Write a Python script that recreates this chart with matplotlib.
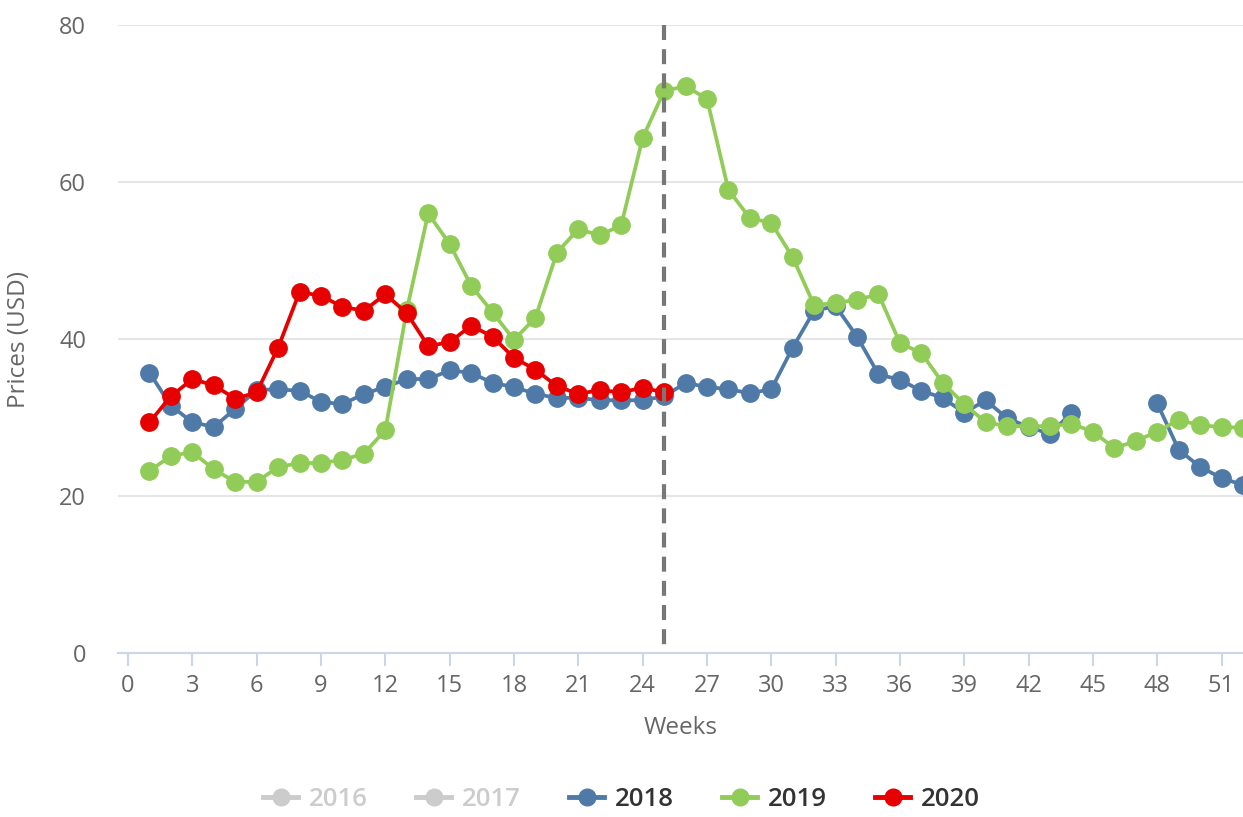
import matplotlib
matplotlib.use('Agg')
import matplotlib.pyplot as plt
from matplotlib.lines import Line2D
import numpy as np

plt.rcParams['font.family'] = ['Open Sans', 'DejaVu Sans']

weeks = list(range(1, 53))

p2018 = [35.7, 31.5, 29.4, 28.8, 31.1, 33.5, 33.6, 33.4, 32.0, 31.7,
         33.0, 33.9, 34.9, 34.9, 36.0, 35.7, 34.4, 33.9, 33.0, 32.5,
         32.5, 32.2, 32.2, 32.2, 32.7, 34.4, 33.9, 33.6, 33.1, 33.6,
         38.9, 43.6, 44.2, 40.3, 35.5, 34.8, 33.4, 32.5, 30.6, 32.2,
         29.9, 28.8, 27.9, 30.6, None, None, None, 31.8, 25.9, 23.7,
         22.3, 21.4]
p2019 = [23.2, 25.1, 25.6, 23.4, 21.8, 21.8, 23.7, 24.2, 24.2, 24.6,
         25.4, 28.4, 43.7, 56.0, 52.1, 46.8, 43.4, 39.9, 42.7, 51.0,
         54.0, 53.2, 54.5, 65.6, 71.6, 72.2, 70.6, 59.0, 55.4, 54.8,
         50.4, 44.3, 44.6, 45.0, 45.7, 39.5, 38.2, 34.4, 31.7, 29.4,
         28.9, 28.9, 28.9, 29.2, 28.2, 26.1, 27.0, 28.2, 29.7, 29.0,
         28.8, 28.7]
p2020 = [29.4, 32.7, 34.9, 34.1, 32.4, 33.2, 38.9, 46.0, 45.5, 44.1,
         43.6, 45.7, 43.3, 39.1, 39.6, 41.7, 40.3, 37.6, 36.1, 34.0,
         33.0, 33.5, 33.2, 33.8, 33.2]

current_week = 25

c2018 = '#4f7aa8'
c2019 = '#91cc58'
c2020 = '#e60000'
hidden = '#cccccc'

fig = plt.figure(figsize=(12.43, 8.17), dpi=100)
ax = fig.add_axes([0.0949, 0.2007, 0.9051, 0.7687])

def to_arr(vals):
    return np.array([np.nan if v is None else v for v in vals], dtype=float)

ms = 12.5
lw = 2.7
ax.plot(weeks, to_arr(p2018), color=c2018, marker='o', ms=ms, lw=lw, zorder=3, clip_on=False)
ax.plot(weeks, to_arr(p2019), color=c2019, marker='o', ms=ms, lw=lw, zorder=4, clip_on=False)
ax.plot(weeks[:len(p2020)], to_arr(p2020), color=c2020, marker='o', ms=ms, lw=lw, zorder=5, clip_on=False)

# current week marker, dashes start from the top
ax.plot([current_week, current_week], [80, 0], color='#777777', lw=3,
        linestyle=(0, (3.6, 2.2)), zorder=6)

ax.set_xlim(-0.47, 52)
ax.set_ylim(0, 80)
ax.set_xticks(range(0, 52, 3))
ax.set_yticks(range(0, 81, 20))
ax.grid(axis='y', color='#e6e6e6', lw=1.5, zorder=0)
ax.set_axisbelow(True)

for s in ['top', 'right', 'left']:
    ax.spines[s].set_visible(False)
ax.spines['bottom'].set_color('#ccd6eb')
ax.spines['bottom'].set_linewidth(1.5)
ax.spines['bottom'].set_zorder(1)

ax.tick_params(axis='x', colors='#ccd6eb', length=9, width=1.5, labelcolor='#666666',
               labelsize=17, pad=6)
ax.tick_params(axis='y', length=0, labelcolor='#666666', labelsize=17, pad=23)

ax.set_xlabel('Weeks', color='#666666', fontsize=17.5, labelpad=13)
ax.set_ylabel('Prices (USD)', color='#666666', fontsize=17.5)
ax.yaxis.set_label_coords(-0.077, 0.5)

handles = []
labels = ['2016', '2017', '2018', '2019', '2020']
colors = [hidden, hidden, c2018, c2019, c2020]
for c in colors:
    handles.append(Line2D([0], [0], color=c, marker='o', ms=12, lw=3.5))
leg = fig.legend(handles, labels, loc='center', bbox_to_anchor=(0.5, 0.021), ncol=5,
                 frameon=False, handlelength=1.36, handletextpad=0.4, columnspacing=1.9,
                 prop={'size': 18.5, 'weight': 'semibold'})
for t, c in zip(leg.get_texts(), ['#cccccc', '#cccccc', '#333333', '#333333', '#333333']):
    t.set_color(c)

fig.savefig('out.png', dpi=100)
